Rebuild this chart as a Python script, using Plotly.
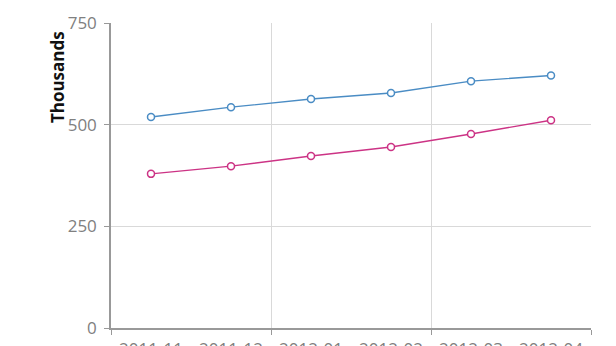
import plotly.graph_objects as go

months = ["2011-11", "2011-12", "2012-01", "2012-02", "2012-03", "2012-04"]
series_a = [519, 543, 563, 578, 607, 621]
series_b = [379, 398, 423, 445, 477, 511]
y_ticks = [0, 250, 500, 750]

xs = list(range(len(months)))
blue = "#4a8cc4"
pink = "#cc3385"

fig = go.Figure()
fig.add_trace(go.Scatter(x=xs, y=series_a, mode="lines+markers",
                         line=dict(color=blue, width=1.4),
                         marker=dict(symbol="circle", size=7, color="white",
                                     line=dict(color=blue, width=1.5)),
                         showlegend=False, hoverinfo="skip"))
fig.add_trace(go.Scatter(x=xs, y=series_b, mode="lines+markers",
                         line=dict(color=pink, width=1.4),
                         marker=dict(symbol="circle", size=7, color="white",
                                     line=dict(color=pink, width=1.5)),
                         showlegend=False, hoverinfo="skip"))
# invisible trace to activate the label axis
fig.add_trace(go.Scatter(x=xs, y=series_a, xaxis="x2", mode="markers",
                         marker=dict(opacity=0), showlegend=False, hoverinfo="skip"))

font_family = "Open Sans, DejaVu Sans, sans-serif"
grid_vals = [-0.5, 1.5, 3.5, 5.5]
fig.update_layout(
    width=616, height=346,
    margin=dict(l=111, r=25, t=23, b=18),
    paper_bgcolor="white", plot_bgcolor="white",
    font=dict(family=font_family, color="#808080", size=17),
    xaxis=dict(range=[-0.5, 5.5], tickmode="array", tickvals=grid_vals,
               ticktext=["", "", "", ""], showgrid=True, gridcolor="#d9d9d9",
               gridwidth=1, showline=True, linecolor="#999999", linewidth=1.5,
               ticks="outside", ticklen=5, tickcolor="#999999", zeroline=False,
               automargin=False),
    xaxis2=dict(range=[-0.5, 5.5], overlaying="x", side="bottom",
                tickmode="array", tickvals=xs, ticktext=months,
                showgrid=False, showline=False, ticks="", zeroline=False,
                ticklabelstandoff=9, automargin=False,
                tickfont=dict(size=17, color="#808080", family=font_family)),
    yaxis=dict(range=[0, 750], tickmode="array", tickvals=y_ticks,
               showgrid=True, gridcolor="#d9d9d9", gridwidth=1,
               showline=True, linecolor="#999999", linewidth=1.5,
               ticks="outside", ticklen=5, tickcolor="#999999", zeroline=False,
               automargin=False, ticklabelstandoff=4,
               tickfont=dict(size=17, color="#808080", family=font_family)),
    annotations=[dict(text="<b>Thousands</b>", xref="paper", yref="paper",
                      x=-0.1125, y=0.98, xanchor="center", yanchor="top",
                      textangle=-90, showarrow=False,
                      font=dict(size=17, color="#111111", family=font_family))],
)

fig.write_html("out.html")
